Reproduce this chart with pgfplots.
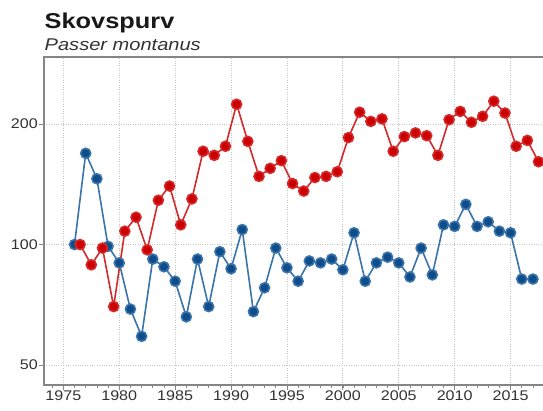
\documentclass[border=0pt]{standalone}
\usepackage{fontspec}
\setmainfont{Liberation Sans}
\usepackage{graphicx}
\usepackage{pgfplots}
\pgfplotsset{compat=1.18}
\definecolor{redm}{HTML}{CC0000}
\definecolor{redl}{HTML}{D42A2A}
\definecolor{bluem}{HTML}{0E4C8A}
\definecolor{bluel}{HTML}{3A74AA}
\definecolor{axgray}{HTML}{858585}
\definecolor{gridgray}{HTML}{C4C4C4}
\definecolor{txt}{HTML}{333333}
\newcommand{\sx}[1]{\scalebox{1.15}[1]{#1}}
\begin{document}
\begin{tikzpicture}
\path[use as bounding box] (0pt,0pt) rectangle (543pt,410pt);
\clip (0pt,0pt) rectangle (543pt,410pt);
\node[anchor=base west, inner sep=0, font=\fontsize{21.5}{24}\selectfont\bfseries, text=black!90] at (44.5pt,381pt) {\scalebox{1.18}[1]{Skovspurv}};
\node[anchor=base west, inner sep=0, font=\fontsize{17}{20}\selectfont\itshape, text=txt] at (44.5pt,359.5pt) {\scalebox{1.18}[1]{Passer montanus}};
\begin{axis}[
  at={(44pt,25pt)}, anchor=south west,
  scale only axis, width=505.7pt, height=328pt,
  xmin=1973.27, xmax=2018.5,
  ymode=log, ymin=44.6, ymax=294,
  xtick={1975,1980,1985,1990,1995,2000,2005,2010,2015},
  xticklabels={\sx{1975},\sx{1980},\sx{1985},\sx{1990},\sx{1995},\sx{2000},\sx{2005},\sx{2010},\sx{2015}},
  minor xtick={1974,...,2018},
  ytick={50,100,200}, yticklabels={\sx{50},\sx{100},\sx{200}},
  yminorticks=false,
  xtick pos=bottom, ytick pos=left,
  tick align=outside,
  major tick length=5pt, minor tick length=3pt,
  tick style={axgray, line width=0.8pt},
  minor tick style={axgray, line width=0.6pt},
  axis line style={axgray, line width=1.3pt},
  grid=major,
  major grid style={gridgray, dotted, line width=0.9pt},
  /pgf/number format/assume math mode=true,
  ticklabel style={font=\fontsize{14}{16}\selectfont, text=txt},
  xticklabel style={inner sep=1pt},
  yticklabel style={inner sep=1pt},
]
\addplot[bluel, line width=1.6pt, mark=*, mark size=5pt, mark options={fill=bluem, draw=none}] coordinates {
(1976,100) (1977,169) (1978,146) (1979,99) (1980,90) (1981,69) (1982,59)
(1983,92) (1984,88) (1985,81) (1986,66) (1987,92) (1988,70) (1989,96)
(1990,87) (1991,109) (1992,68) (1993,78) (1994,98) (1995,87.5) (1996,81)
(1997,91) (1998,90) (1999,92) (2000,86.5) (2001,107) (2002,81) (2003,90)
(2004,93) (2005,90) (2006,83) (2007,98) (2008,84) (2009,112) (2010,111)
(2011,126) (2012,111) (2013,114) (2014,108) (2015,107) (2016,82) (2017,82)
};
\addplot[redl, line width=1.6pt, mark=*, mark size=5pt, mark options={fill=redm, draw=none}] coordinates {
(1976.5,100) (1977.5,89) (1978.5,98) (1979.5,70) (1980.5,108) (1981.5,117)
(1982.5,97) (1983.5,129) (1984.5,140) (1985.5,112) (1986.5,130) (1987.5,171)
(1988.5,167) (1989.5,176) (1990.5,224) (1991.5,181) (1992.5,148) (1993.5,155)
(1994.5,162) (1995.5,142) (1996.5,136) (1997.5,147) (1998.5,148) (1999.5,152)
(2000.5,185) (2001.5,214) (2002.5,203) (2003.5,206) (2004.5,171) (2005.5,186)
(2006.5,190) (2007.5,187) (2008.5,167) (2009.5,205) (2010.5,215) (2011.5,202)
(2012.5,209) (2013.5,228) (2014.5,213) (2015.5,176) (2016.5,182) (2017.5,161)
};
\end{axis}
\end{tikzpicture}
\end{document}
